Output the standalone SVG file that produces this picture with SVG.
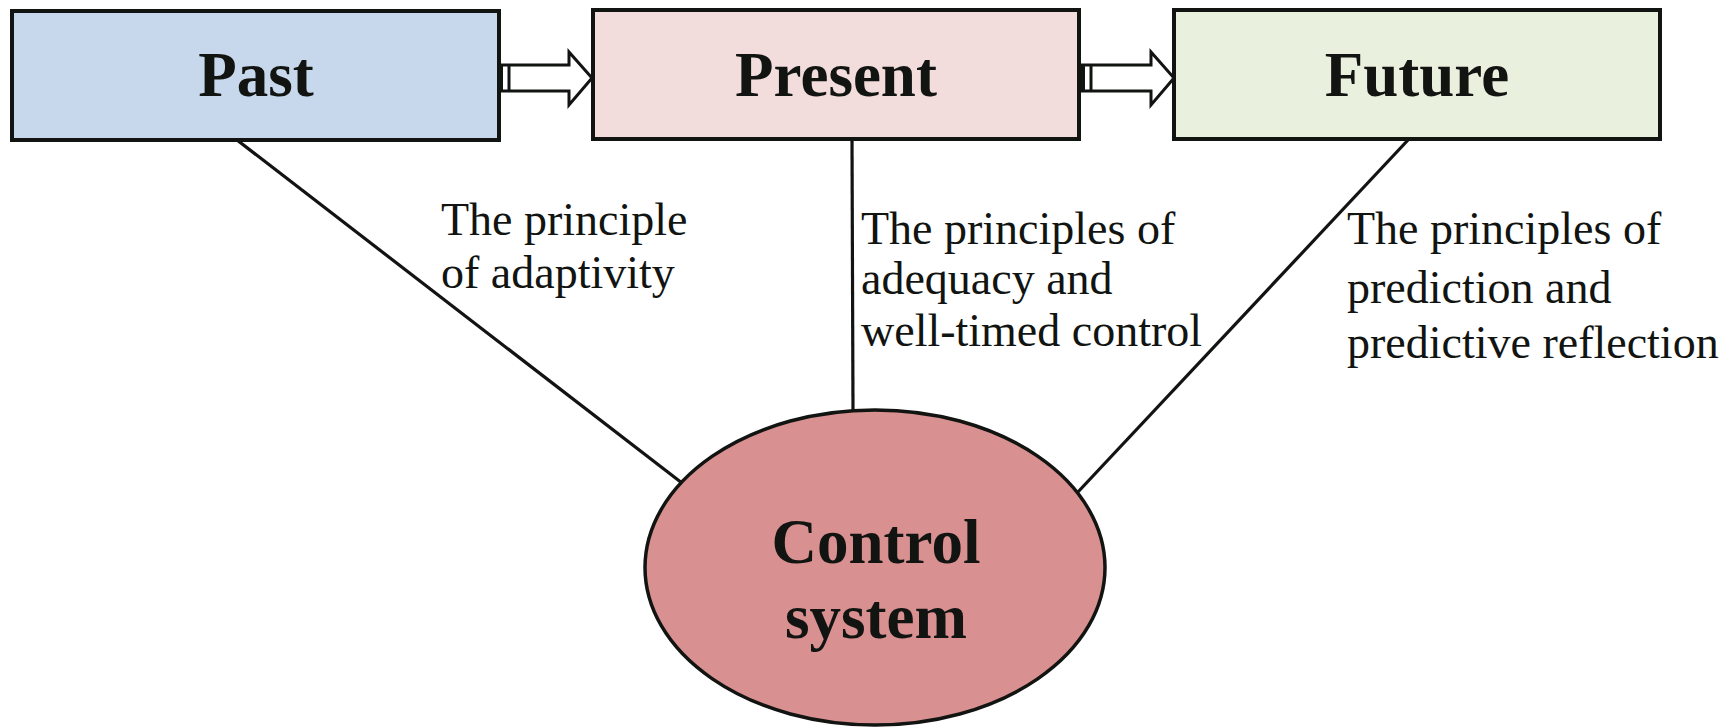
<svg xmlns="http://www.w3.org/2000/svg" width="1735" height="728" viewBox="0 0 1735 728">
  <style>
    .box { stroke: #111411; stroke-width: 4; }
    .head { font-family: "Liberation Serif", "Times New Roman", serif; font-weight: bold; font-size: 63px; fill: #111411; text-anchor: middle; }
    .lbl { font-family: "Liberation Serif", "Times New Roman", serif; font-size: 46px; fill: #111411; }
    .conn { stroke: #111411; stroke-width: 3.2; fill: none; }
    .arrow { fill: #ffffff; stroke: #111411; stroke-width: 3; stroke-linejoin: miter; }
  </style>
  <rect width="1735" height="728" fill="#ffffff"/>

  <g id="connectors">
    <line class="conn" x1="237" y1="140" x2="682" y2="483"/>
    <line class="conn" x1="852" y1="140" x2="853" y2="411"/>
    <line class="conn" x1="1408" y1="140" x2="1077" y2="493"/>
    <g id="arrow-past-present">
      <polygon class="arrow" points="499,65 569,65 569,52 592,78 569,105 569,91 499,91"/>
      <rect x="499" y="64" width="4" height="28" fill="#111411"/>
      <line x1="509" y1="65" x2="509" y2="91" stroke="#111411" stroke-width="3"/>
    </g>
    <g id="arrow-present-future">
      <polygon class="arrow" points="1081,65 1151,65 1151,52 1174,78 1151,105 1151,91 1081,91"/>
      <rect x="1081" y="64" width="4" height="28" fill="#111411"/>
      <line x1="1091" y1="65" x2="1091" y2="91" stroke="#111411" stroke-width="3"/>
    </g>
  </g>

  <g id="past">
    <rect class="box" x="12" y="11" width="487" height="129" fill="#c8d8ec"/>
    <text class="head" x="256" y="96">Past</text>
  </g>
  <g id="present">
    <rect class="box" x="593" y="10" width="486" height="129" fill="#f2dcdc"/>
    <text class="head" x="836" y="96">Present</text>
  </g>
  <g id="future">
    <rect class="box" x="1174" y="10" width="486" height="129" fill="#e9f1de"/>
    <text class="head" x="1417" y="96">Future</text>
  </g>

  <g id="control-system">
    <ellipse cx="875" cy="567.5" rx="230" ry="157.5" fill="#d89090" stroke="#111411" stroke-width="3.5"/>
    <text class="head" x="876" y="563">Control</text>
    <text class="head" x="876" y="638">system</text>
  </g>

  <g id="label-adaptivity">
    <text class="lbl" x="441" y="235">The principle</text>
    <text class="lbl" x="441" y="288">of adaptivity</text>
  </g>
  <g id="label-adequacy">
    <text class="lbl" x="861" y="244">The principles of</text>
    <text class="lbl" x="861" y="294">adequacy and</text>
    <text class="lbl" x="861" y="346">well-timed control</text>
  </g>
  <g id="label-prediction">
    <text class="lbl" x="1347" y="244">The principles of</text>
    <text class="lbl" x="1347" y="303">prediction and</text>
    <text class="lbl" x="1347" y="358">predictive reflection</text>
  </g>
</svg>
